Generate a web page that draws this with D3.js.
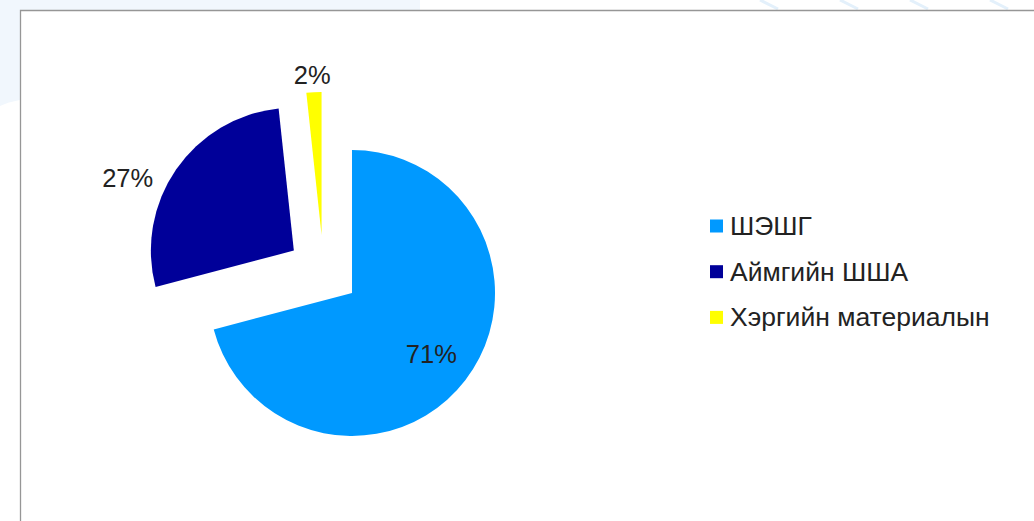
<!DOCTYPE html>
<html>
<head>
<meta charset="utf-8">
<script src="https://cdn.jsdelivr.net/npm/d3@7"></script>
<style>
    body { margin: 0; background: #fff; }
    svg { display: block; font-family: "Liberation Sans", Arial, sans-serif; }
</style>
</head>
<body>
<svg id="chart" width="1034" height="521"></svg>
<script>
// Chart data
const categories = ["ШЭШГ", "Аймгийн ШША", "Хэргийн материалын"];
const values = [70.9, 27.4, 1.7];
const labels = ["71%", "27%", "2%"];
const colors = ["#0099ff", "#000099", "#ffff00"];

// label placement: angle shift (deg) and distance from slice tip, in radii
const labelShift = [0, -10.8, -0.3];
const labelDist = [0.7, 1.27, 1.12];

let svg = d3.select("#chart"),
    width = +svg.attr("width"),
    height = +svg.attr("height");

// faint slide background outside the frame
svg.append("path")
    .attr("d", "M0,0 L420,0 L420,10 L20,10 L20,100 Q8,102 0,106 Z")
    .attr("fill", "#f1f7fd");
[760, 840, 910, 990].forEach(function (x) {
    svg.append("line")
        .attr("x1", x).attr("y1", 0)
        .attr("x2", x + 18).attr("y2", 9)
        .attr("stroke", "#e3f0fb")
        .attr("stroke-width", 3);
});

// chart frame
svg.append("path")
    .attr("d", "M20.5," + height + " L20.5,10.5 L" + width + ",10.5")
    .attr("fill", "none")
    .attr("stroke", "#969696")
    .attr("stroke-width", 1.3);

// Pie
let cx = 323.5, cy = 271, radius = 143, explode = 36;

let pie = d3.pie().sort(null).value(function (d) { return d; });
let arcs = pie(values);
let arc = d3.arc().innerRadius(0).outerRadius(radius);

let slices = svg.append("g")
    .attr("transform", "translate(" + cx + "," + cy + ")");

function tip(d) {
    let a = (d.startAngle + d.endAngle) / 2;
    return [explode * Math.sin(a), -explode * Math.cos(a)];
}

slices.selectAll("path")
    .data(arcs)
    .enter().append("path")
    .attr("d", arc)
    .attr("transform", function (d) {
        let t = tip(d);
        return "translate(" + t[0] + "," + t[1] + ")";
    })
    .attr("fill", function (d, i) { return colors[i]; });

// Data labels
slices.selectAll("text")
    .data(arcs)
    .enter().append("text")
    .attr("x", function (d, i) {
        let a = (d.startAngle + d.endAngle) / 2 + labelShift[i] * Math.PI / 180;
        return tip(d)[0] + labelDist[i] * radius * Math.sin(a);
    })
    .attr("y", function (d, i) {
        let a = (d.startAngle + d.endAngle) / 2 + labelShift[i] * Math.PI / 180;
        return tip(d)[1] - labelDist[i] * radius * Math.cos(a);
    })
    .attr("dy", "0.36em")
    .attr("text-anchor", "middle")
    .attr("font-size", 25.5)
    .attr("fill", "#222")
    .text(function (d, i) { return labels[i]; });

// Legend
let legend = svg.append("g")
    .attr("transform", "translate(710,226)");

let rows = legend.selectAll("g")
    .data(categories)
    .enter().append("g")
    .attr("transform", function (d, i) { return "translate(0," + (i * 45.7) + ")"; });

rows.append("rect")
    .attr("x", 0)
    .attr("y", -6.5)
    .attr("width", 13)
    .attr("height", 13)
    .attr("fill", function (d, i) { return colors[i]; });

rows.append("text")
    .attr("x", 20)
    .attr("y", 9)
    .attr("font-size", 26.5)
    .attr("fill", "#222")
    .text(function (d) { return d; });
</script>
</body>
</html>
